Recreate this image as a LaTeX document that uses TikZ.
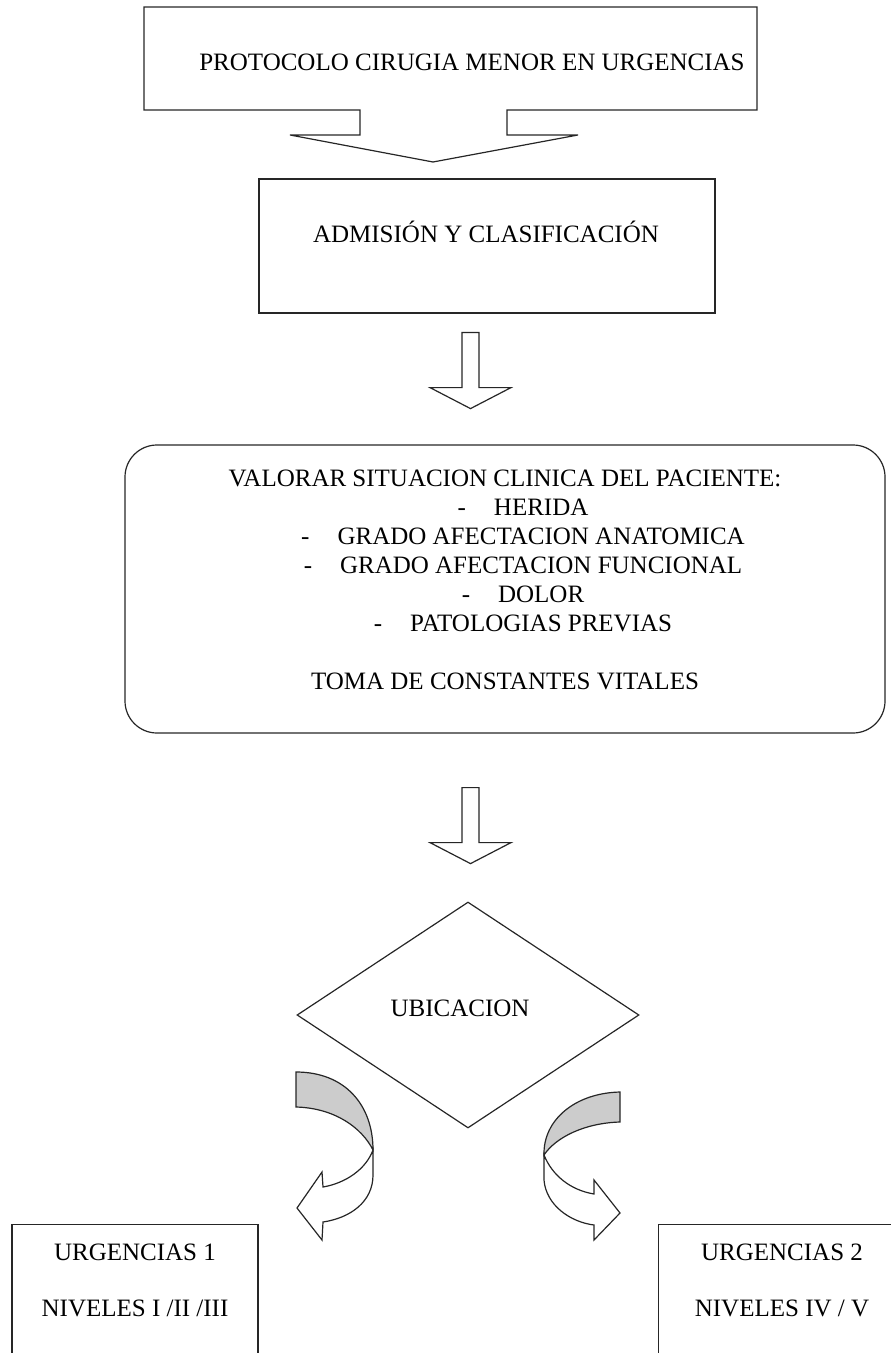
\documentclass[tikz,border=0pt]{standalone}
\usepackage{fontspec}
\setmainfont{Liberation Serif}
\usetikzlibrary{positioning,shapes.geometric}

\newcommand{\guion}[1]{\hspace*{18pt}-\hspace{14pt}#1}

\begin{document}
\begin{tikzpicture}
[x=0.5pt, y=-0.5pt, node distance=5mm,
 font=\fontsize{12.5}{14.5}\selectfont,
 linea/.style={line width=0.6pt, draw=black!85},
 caja/.style={linea, shape=rectangle, inner sep=0pt},
 texto/.style={align=center, inner sep=0pt},
 banda/.style={linea, fill=black!20},
 flechabaja/.pic={\draw[linea, fill=white] (-8.5,0) -- (-8.5,55) -- (-40.5,55) -- (0,76) -- (40.5,55) -- (8.5,55) -- (8.5,0) -- cycle;}]
\useasboundingbox (0,0) rectangle (890,1353);

% caja de titulo con su flecha
\draw[linea] (144,7) -- (757,7) -- (757,110) -- (507,110) -- (507,135) -- (578,135)
  -- (433,162) -- (290,135) -- (360,135) -- (360,110) -- (144,110) -- cycle;
\node[texto, anchor=base] (protocolo) at (472,71) {PROTOCOLO CIRUGIA MENOR EN URGENCIAS};

\node[caja, minimum width=228pt, minimum height=67pt] (admision) at (487,246) {};
\node[texto, anchor=base] (admisiontxt) at (486,243) {ADMISIÓN Y CLASIFICACIÓN};

\coordinate[below=9.5pt of admision, xshift=-8.25pt] (f2);
\pic at (f2) {flechabaja};

\node[caja, rounded corners=16pt, minimum width=380pt, minimum height=144pt] (valorar) at (505,589) {};
\node[texto] (valorartxt) at (505,580)
{VALORAR SITUACION CLINICA DEL PACIENTE:\\
 \guion{HERIDA}\\
 \guion{GRADO AFECTACION ANATOMICA}\\
 \guion{GRADO AFECTACION FUNCIONAL}\\
 \guion{DOLOR}\\
 \guion{PATOLOGIAS PREVIAS}\\[14.5pt]
 TOMA DE CONSTANTES VITALES};

\coordinate[below=27pt of valorar, xshift=-17.25pt] (f3);
\pic at (f3) {flechabaja};

\node[linea, diamond, minimum width=171pt, minimum height=113pt, inner sep=0pt] (ubicacion) at (468,1015) {};
\node[texto, anchor=base] (ubicaciontxt) at (460,1016) {UBICACION};

% flechas curvas
\filldraw[banda] (296,1072) .. controls (345,1072) and (373,1105) .. (373,1150)
  .. controls (362,1128) and (335,1108) .. (296,1107) -- cycle;
\filldraw[linea, fill=white] (373,1150) -- (373,1175) .. controls (373,1202) and (350,1218) .. (323,1222)
  -- (322,1240) -- (297,1208) -- (322,1172) -- (323,1187)
  .. controls (346,1183) and (366,1169) .. (373,1150) -- cycle;

\filldraw[banda] (620,1092) -- (620,1122) .. controls (585,1123) and (556,1137) .. (544,1155)
  .. controls (543,1120) and (575,1093) .. (620,1092) -- cycle;
\filldraw[linea, fill=white] (544,1155) -- (544,1180) .. controls (546,1205) and (570,1222) .. (594,1225)
  -- (594,1240) -- (620,1213) -- (594,1180) -- (594,1194)
  .. controls (570,1190) and (552,1175) .. (544,1155) -- cycle;

\node[caja, minimum width=123pt, minimum height=100pt, anchor=north] (urg1) at (135,1224) {};
\node[texto] (urg1txt) at (135,1280) {URGENCIAS 1\\[13.5pt]NIVELES I /II /III};
\node[caja, minimum width=150pt, minimum height=100pt, anchor=north west] (urg2) at (658,1224) {};
\node[texto] (urg2txt) at (782,1280) {URGENCIAS 2\\[13.5pt]NIVELES IV / V};
\end{tikzpicture}
\end{document}
